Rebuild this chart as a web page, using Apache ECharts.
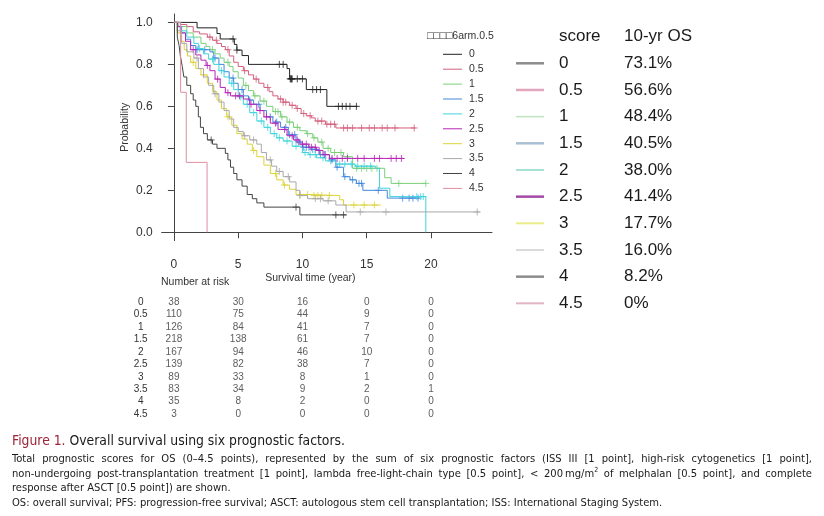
<!DOCTYPE html>
<html>
<head>
<meta charset="utf-8">
<script src="https://cdn.jsdelivr.net/npm/echarts@6/dist/echarts.min.js"></script>
<style>
  html, body { margin: 0; padding: 0; background: #fff; }
  #chart { position: absolute; left: 0; top: 0; width: 824px; height: 516px; }
  .cap { position: absolute; left: 12px; width: 800px; color: #1a1a1a;
         font-family: "Liberation Sans Narrow", "DejaVu Sans Condensed", "Liberation Sans", sans-serif;
         font-stretch: condensed; font-size: 11.1px; line-height: 14px; white-space: nowrap; }
  .just { text-align: justify; text-align-last: justify; white-space: normal; }
  .title { font-size: 13.8px; line-height: 17px; }
  .title b { color: #9c2236; font-weight: normal; }
</style>
</head>
<body>
<div id="chart"></div>
<div class="cap title" style="top:432px"><b>Figure 1.</b> Overall survival using six prognostic factors.</div>
<div class="cap just" style="top:452px">Total prognostic scores for OS (0–4.5 points), represented by the sum of six prognostic factors (ISS III [1 point], high-risk cytogenetics [1 point],</div>
<div class="cap just" style="top:467px">non-undergoing post-transplantation treatment [1 point], lambda free-light-chain type [0.5 point], &lt; 200&#8201;mg/m<sup style="font-size:7px;line-height:0">2</sup> of melphalan [0.5 point], and complete</div>
<div class="cap" style="top:481px">response after ASCT [0.5 point]) are shown.</div>
<div class="cap" style="top:496px">OS: overall survival; PFS: progression-free survival; ASCT: autologous stem cell transplantation; ISS: International Staging System.</div>
<script>
const groups = ['0', '0.5', '1', '1.5', '2', '2.5', '3', '3.5', '4', '4.5'];
const osTenYear = ['73.1%', '56.6%', '48.4%', '40.5%', '38.0%', '41.4%', '17.7%', '16.0%', '8.2%', '0%'];
const xTicks = [0, 5, 10, 15, 20];
const yTicks = [0, 0.2, 0.4, 0.6, 0.8, 1.0];
const riskTimes = [0, 5, 10, 15, 20];

// number at risk, one row per score
const atRisk0 = [38, 30, 16, 0, 0];
const atRisk05 = [110, 75, 44, 9, 0];
const atRisk1 = [126, 84, 41, 7, 0];
const atRisk15 = [218, 138, 61, 7, 0];
const atRisk2 = [167, 94, 46, 10, 0];
const atRisk25 = [139, 82, 38, 7, 0];
const atRisk3 = [89, 33, 8, 1, 0];
const atRisk35 = [83, 34, 9, 2, 1];
const atRisk4 = [35, 8, 2, 0, 0];
const atRisk45 = [3, 0, 0, 0, 0];

// KM steps: [time, survival after the drop]
const km0 = [[0, 1], [1.8, 0.974], [3.35, 0.947], [3.6, 0.921], [4.7, 0.895], [4.9, 0.868], [5.3, 0.842],
  [5.8, 0.80], [8.8, 0.78], [9.0, 0.731], [10.3, 0.68], [11.9, 0.60], [14.3, 0.60]];
const km05 = [[0, 1], [0.5, 0.99], [1.0, 0.98], [1.5, 0.955], [2.0, 0.945], [2.6, 0.93], [3.0, 0.915],
  [3.35, 0.90], [3.7, 0.885], [4.0, 0.87], [4.3, 0.84], [4.65, 0.81], [5.0, 0.79], [5.4, 0.77], [5.8, 0.75],
  [6.2, 0.73], [6.6, 0.71], [7.0, 0.69], [7.4, 0.67], [7.7, 0.65], [8.1, 0.635], [8.5, 0.62], [9.0, 0.605],
  [9.5, 0.59], [9.9, 0.566], [10.3, 0.555], [10.7, 0.545], [11.0, 0.53], [11.8, 0.515], [12.6, 0.497], [18.8, 0.497]];
const km1 = [[0, 1], [0.5, 0.98], [1.0, 0.95], [1.5, 0.93], [2.1, 0.90], [2.5, 0.885], [2.8, 0.87], [3.2, 0.85],
  [3.6, 0.83], [3.9, 0.81], [4.3, 0.79], [4.6, 0.765], [5.0, 0.735], [5.4, 0.70], [5.8, 0.675], [6.2, 0.65],
  [6.7, 0.625], [7.2, 0.60], [7.7, 0.575], [8.3, 0.55], [8.8, 0.525], [9.3, 0.50], [9.8, 0.484], [10.3, 0.47],
  [10.8, 0.45], [11.2, 0.43], [11.6, 0.40], [12.2, 0.38], [13.2, 0.36], [13.9, 0.305], [16.4, 0.26],
  [16.9, 0.233], [19.6, 0.233]];
const km15 = [[0, 1], [0.3, 0.98], [0.6, 0.95], [0.9, 0.92], [1.3, 0.89], [1.7, 0.87], [2.8, 0.86], [3.1, 0.83],
  [3.5, 0.80], [3.9, 0.765], [4.3, 0.735], [4.65, 0.71], [5.0, 0.68], [5.4, 0.65], [5.8, 0.63], [6.2, 0.61],
  [6.7, 0.58], [7.2, 0.55], [7.7, 0.525], [8.3, 0.50], [8.9, 0.465], [9.5, 0.43], [10.0, 0.405], [10.6, 0.395],
  [11.3, 0.37], [12.1, 0.345], [12.6, 0.31], [13.2, 0.265], [13.7, 0.25], [14.2, 0.233], [14.7, 0.20],
  [16.6, 0.163], [19.1, 0.163]];
const km2 = [[0, 1], [0.5, 0.96], [1.0, 0.93], [1.55, 0.90], [1.9, 0.875], [2.3, 0.85], [2.7, 0.825], [3.1, 0.80],
  [3.5, 0.77], [3.9, 0.74], [4.3, 0.71], [4.65, 0.68], [5.0, 0.645], [5.4, 0.61], [5.9, 0.57], [6.45, 0.53],
  [7.0, 0.50], [7.5, 0.47], [8.0, 0.45], [8.5, 0.435], [9.2, 0.41], [10.0, 0.38], [10.5, 0.37], [11.1, 0.355],
  [11.8, 0.34], [12.6, 0.325], [14.1, 0.315], [15.7, 0.305], [16.0, 0.21], [16.8, 0.17], [19.6, 0.0]];
const km25 = [[0, 1], [0.3, 0.98], [0.5, 0.95], [0.9, 0.91], [1.3, 0.87], [1.7, 0.845], [2.1, 0.82], [2.5, 0.795],
  [2.8, 0.77], [3.2, 0.73], [3.6, 0.69], [4.0, 0.665], [4.4, 0.65], [5.4, 0.635], [5.9, 0.61], [6.45, 0.58],
  [7.0, 0.55], [7.5, 0.52], [8.1, 0.49], [8.8, 0.46], [9.3, 0.44], [9.8, 0.42], [10.5, 0.405], [11.1, 0.39],
  [11.6, 0.37], [12.1, 0.352], [17.9, 0.352]];
const km3 = [[0, 1], [0.26, 0.95], [0.5, 0.91], [0.8, 0.87], [1.05, 0.84], [1.3, 0.81], [1.7, 0.78], [2.1, 0.75],
  [2.6, 0.71], [3.0, 0.67], [3.35, 0.63], [3.7, 0.59], [4.1, 0.55], [4.5, 0.51], [4.9, 0.47], [5.3, 0.445],
  [5.7, 0.42], [6.1, 0.39], [6.45, 0.36], [7.0, 0.32], [7.5, 0.28], [8.0, 0.25], [8.5, 0.225], [9.0, 0.205],
  [9.5, 0.18], [10.6, 0.175], [12.9, 0.155], [13.2, 0.13], [16.1, 0.13]];
const km35 = [[0, 1], [0.26, 0.96], [0.6, 0.90], [1.0, 0.86], [1.55, 0.83], [1.9, 0.78], [2.3, 0.74], [2.7, 0.70],
  [3.1, 0.66], [3.5, 0.62], [3.9, 0.58], [4.3, 0.54], [4.65, 0.50], [5.0, 0.48], [5.4, 0.46], [5.9, 0.44],
  [6.45, 0.42], [6.8, 0.38], [7.2, 0.345], [7.6, 0.315], [8.0, 0.29], [8.5, 0.265], [9.0, 0.24], [9.5, 0.20],
  [9.8, 0.175], [10.4, 0.16], [11.6, 0.15], [12.6, 0.13], [13.4, 0.097], [23.8, 0.097]];
const km4 = [[0, 1], [0.26, 0.93], [0.4, 0.89], [0.5, 0.84], [0.65, 0.79], [0.77, 0.74], [1.0, 0.70], [1.3, 0.66],
  [1.5, 0.63], [1.7, 0.60], [1.9, 0.55], [2.06, 0.50], [2.3, 0.47], [2.6, 0.44], [3.0, 0.42], [3.35, 0.40],
  [4.0, 0.376], [4.2, 0.345], [4.4, 0.31], [4.65, 0.28], [4.9, 0.25], [5.3, 0.22], [5.7, 0.18], [6.1, 0.16],
  [6.45, 0.14], [7.0, 0.12], [9.8, 0.083], [13.4, 0.083]];
const km45 = [[0, 1], [0.52, 0.667], [0.96, 0.333], [2.58, 0]];

// censoring times
const cens0 = [4.6, 4.9, 8.2, 8.5, 9.05, 9.1, 9.15, 9.2, 9.6, 10.0, 10.8, 11.1, 11.4, 12.8, 13.1, 13.4, 13.7, 14.2];
const cens05 = [2.8, 3.3, 4.2, 5.5, 6.4, 7.3, 8.3, 8.5, 8.7, 9.2, 9.6, 10.1, 10.6, 11.2, 11.5, 11.9, 12.2, 12.5,
  13.2, 13.5, 13.9, 14.6, 15.2, 15.6, 16.2, 16.6, 17.2, 18.7];
const cens1 = [3.0, 4.2, 5.6, 6.3, 7.0, 7.9, 8.1, 8.4, 9.0, 9.6, 10.4, 10.9, 11.5, 12.0, 12.5, 13.0, 13.5, 14.2,
  14.6, 15.0, 15.4, 15.8, 17.5, 19.6];
const cens15 = [1.8, 2.4, 3.2, 4.6, 5.3, 5.9, 6.6, 7.5, 8.0, 8.7, 9.0, 9.4, 9.7, 10.1, 10.3, 10.5, 10.8, 11.0,
  11.4, 11.8, 12.3, 12.7, 13.3, 13.9, 14.4, 14.6, 15.9, 17.8, 18.3, 18.6, 19.0];
const cens2 = [2.0, 3.0, 3.7, 4.5, 5.2, 5.7, 6.2, 6.8, 7.3, 7.8, 8.2, 8.8, 9.5, 10.2, 10.6, 11.0, 11.6, 12.2,
  12.9, 13.3, 13.8, 14.3, 14.8, 15.3, 18.9, 19.2, 19.4];
const cens25 = [1.5, 2.6, 3.4, 4.2, 4.8, 5.1, 6.0, 6.7, 7.2, 7.9, 8.6, 9.2, 9.6, 10.0, 10.3, 10.7, 11.0, 11.3,
  11.7, 12.3, 12.7, 13.1, 13.5, 14.3, 14.8, 15.6, 16.0, 16.9, 17.3, 17.7];
const cens3 = [1.5, 2.3, 4.2, 6.2, 7.9, 8.6, 9.8, 10.4, 10.9, 11.2, 11.5, 12.1, 14.0, 14.8, 15.6];
const cens35 = [1.8, 3.2, 5.5, 6.2, 7.5, 8.2, 8.9, 9.8, 11.0, 11.4, 12.0, 14.5, 16.5, 23.6];
const cens4 = [2.9, 9.5, 12.6, 13.2];
const cens45 = [];

const curves = [km0, km05, km1, km15, km2, km25, km3, km35, km4, km45];
const censored = [cens0, cens05, cens1, cens15, cens2, cens25, cens3, cens35, cens4, cens45];
const atRisk = [atRisk0, atRisk05, atRisk1, atRisk15, atRisk2, atRisk25, atRisk3, atRisk35, atRisk4, atRisk45];

const curveColors = ['#222222', '#d4607e', '#79cf79', '#3f88dd', '#3fd3dc', '#b726b7', '#ddd23a', '#a8a8a8', '#444444', '#e08ea0'];
const keyColors = ['#8c8c8c', '#e3a7bd', '#bfe3bf', '#a9bfd3', '#a6e2d6', '#a24aa6', '#ecec8a', '#cfcfcf', '#8c8c8c', '#e4b4c4'];
const keyWidths = [2.5, 2.5, 1.5, 2.5, 2, 2.5, 2, 1.5, 2.5, 2];

const font = '"Liberation Sans", Arial, sans-serif';
const chart = echarts.init(document.getElementById('chart'));

function survAt(curve, t) {
  let s = 1;
  for (const [x, y] of curve) {
    if (x <= t) s = y;
    else break;
  }
  return s;
}

const series = [];
curves.forEach((c, i) => {
  series.push({
    name: groups[i], type: 'line', step: 'end', data: c, showSymbol: false, symbol: 'none',
    lineStyle: { width: 1, color: curveColors[i] }, z: 2 + i
  });
  series.push({
    type: 'scatter', data: censored[i].map((t) => [t, survAt(c, t)]),
    symbol: 'path://M0,5L10,5M5,0L5,10', symbolSize: 7,
    itemStyle: { color: 'none', borderColor: curveColors[i], borderWidth: 1 }, z: 2 + i
  });
});

// number at risk table
const riskData = [];
atRisk.forEach((row, i) => {
  row.forEach((n, j) => riskData.push([riskTimes[j], groups[i], n]));
});
series.push({
  type: 'scatter', xAxisIndex: 1, yAxisIndex: 1, data: riskData, symbolSize: 1,
  itemStyle: { color: 'rgba(0,0,0,0)' },
  label: { show: true, position: 'inside', formatter: (p) => String(p.value[2]), color: '#333', fontSize: 10, fontFamily: font }
});

const graphic = [
  { type: 'text', left: 161, top: 277, style: { text: 'Number at risk', fill: '#333', font: '10.5px ' + font } },
  { type: 'text', left: 427, top: 31, style: { text: '\u25A1\u25A1\u25A1\u25A16arm.0.5', fill: '#333', font: '10.5px ' + font } }
];
groups.forEach((g, i) => {
  const y = 54.3 + i * 14.9;
  graphic.push({ type: 'line', shape: { x1: 443, y1: y, x2: 462, y2: y }, style: { stroke: curveColors[i], lineWidth: 1 } });
  graphic.push({ type: 'text', x: 469, y: y, style: { text: g, fill: '#333', font: '10.5px ' + font, verticalAlign: 'middle' } });
});
graphic.push({ type: 'text', x: 559, y: 36, style: { text: 'score', fill: '#1a1a1a', font: '17px ' + font, verticalAlign: 'middle' } });
graphic.push({ type: 'text', x: 624, y: 36, style: { text: '10-yr OS', fill: '#1a1a1a', font: '17px ' + font, verticalAlign: 'middle' } });
groups.forEach((g, i) => {
  const y = 63.3 + i * 26.67;
  graphic.push({ type: 'line', shape: { x1: 516, y1: y, x2: 544, y2: y }, style: { stroke: keyColors[i], lineWidth: keyWidths[i] } });
  graphic.push({ type: 'text', x: 559, y: y, style: { text: g, fill: '#1a1a1a', font: '17px ' + font, verticalAlign: 'middle' } });
  graphic.push({ type: 'text', x: 624, y: y, style: { text: osTenYear[i], fill: '#1a1a1a', font: '17px ' + font, verticalAlign: 'middle' } });
});

chart.setOption({
  animation: false,
  textStyle: { fontFamily: font },
  grid: [
    { left: 161.7, right: 332, top: 14, bottom: 275.3 },
    { left: 161.7, right: 332, top: 296, bottom: 95.6 }
  ],
  xAxis: [
    {
      type: 'value', gridIndex: 0, min: -0.952, max: 24.75,
      axisLine: { lineStyle: { color: '#444' } },
      axisTick: { customValues: xTicks, length: 6, lineStyle: { color: '#444' } },
      axisLabel: { customValues: xTicks, margin: 18, fontSize: 12, color: '#333' },
      splitLine: { show: false },
      name: 'Survival time (year)', nameLocation: 'middle', nameGap: 32,
      nameTextStyle: { fontSize: 10.5, color: '#333', padding: [0, 33, 0, 0] }
    },
    { type: 'value', gridIndex: 1, min: -0.952, max: 24.75, show: false }
  ],
  yAxis: [
    {
      type: 'value', gridIndex: 0, min: -0.04, max: 1.04,
      axisLine: { show: true, lineStyle: { color: '#444' } },
      axisTick: { show: true, customValues: yTicks, length: 6, lineStyle: { color: '#444' } },
      axisLabel: { customValues: yTicks, margin: 9, fontSize: 12, color: '#333', formatter: (v) => v.toFixed(1) },
      splitLine: { show: false },
      name: 'Probability', nameLocation: 'middle', nameGap: 31, nameRotate: 90,
      nameTextStyle: { fontSize: 10.5, color: '#333' }
    },
    {
      type: 'category', gridIndex: 1, data: groups, inverse: true,
      axisLine: { show: false }, axisTick: { show: false },
      axisLabel: { interval: 0, align: 'center', margin: 21, fontSize: 10, color: '#333' }
    }
  ],
  series: series,
  graphic: graphic
});
</script>
</body>
</html>
